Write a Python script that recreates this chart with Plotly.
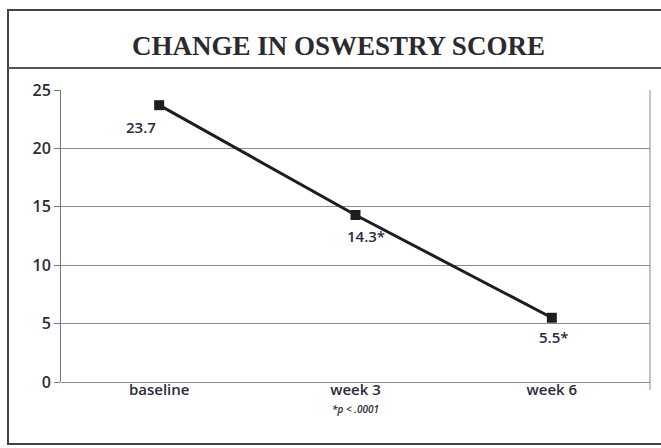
import plotly.graph_objects as go

categories = ["baseline", "week 3", "week 6"]
scores = [23.7, 14.3, 5.5]
point_labels = ["23.7", "14.3*", "5.5*"]
label_shift = [(-18, -22), (10, -21), (2, -19)]
y_ticks = [0, 5, 10, 15, 20, 25]
title_text = "CHANGE IN OSWESTRY SCORE"
footnote = "*p < .0001"

W, H = 661, 448
L, R, T, B = 61, 650, 90, 382
pw, ph = R - L, B - T

def px(x):
    return (x - L) / pw

def py(y):
    return (B - y) / ph

txt = dict(family="Open Sans", color="#2b2b3a", weight=600)

fig = go.Figure()
fig.add_trace(go.Scatter(
    x=categories, y=scores, mode="lines+markers",
    line=dict(color="#1e1e22", width=3),
    marker=dict(symbol="square", size=10, color="#1e1e22"),
    hoverinfo="skip", showlegend=False,
))

annotations = []
for c, v, t, (dx, dy) in zip(categories, scores, point_labels, label_shift):
    annotations.append(dict(x=c, y=v, xref="x", yref="y", text=t, showarrow=False,
                            xshift=dx, yshift=dy, font=dict(size=15, **txt)))
annotations.append(dict(x=categories[1], y=py(409), xref="x", yref="paper",
                        text="<i>" + footnote + "</i>", showarrow=False, yanchor="middle",
                        font=dict(size=10, **txt)))
annotations.append(dict(x=px(338), y=py(46), xref="paper", yref="paper",
                        text="<b>" + title_text + "</b>", showarrow=False, yanchor="middle",
                        font=dict(family="Liberation Serif", size=27, color="#2a2a30")))

shapes = [
    dict(type="rect", xref="paper", yref="paper", x0=px(8), x1=px(675), y0=py(444), y1=py(10),
         line=dict(color="#444", width=2), layer="below"),
    dict(type="line", xref="paper", yref="paper", x0=px(8), x1=px(675), y0=py(68), y1=py(68),
         line=dict(color="#555", width=2)),
    dict(type="line", xref="paper", yref="paper", x0=1, x1=1, y0=py(390), y1=1,
         line=dict(color="#8888a0", width=1)),
]

fig.update_layout(
    width=W, height=H,
    margin=dict(l=L, r=W - R, t=T, b=H - B),
    paper_bgcolor="white", plot_bgcolor="white",
    annotations=annotations, shapes=shapes,
    xaxis=dict(type="category", range=[-0.5, 2.5], showgrid=False,
               showline=False, ticks="", ticklabelstandoff=-3,
               tickfont=dict(size=15, **txt)),
    yaxis=dict(range=[0, 25], tickvals=y_ticks, showgrid=True, gridcolor="#8a8a95", gridwidth=1,
               showline=True, linecolor="#77777f", linewidth=1, ticks="outside", ticklen=6,
               tickcolor="#77777f", zeroline=True, zerolinecolor="#8a8a95", zerolinewidth=1,
               tickfont=dict(size=16, **txt)),
)
fig.write_html("out.html", config={"displayModeBar": False},
               post_script="document.body.style.margin='0';")
